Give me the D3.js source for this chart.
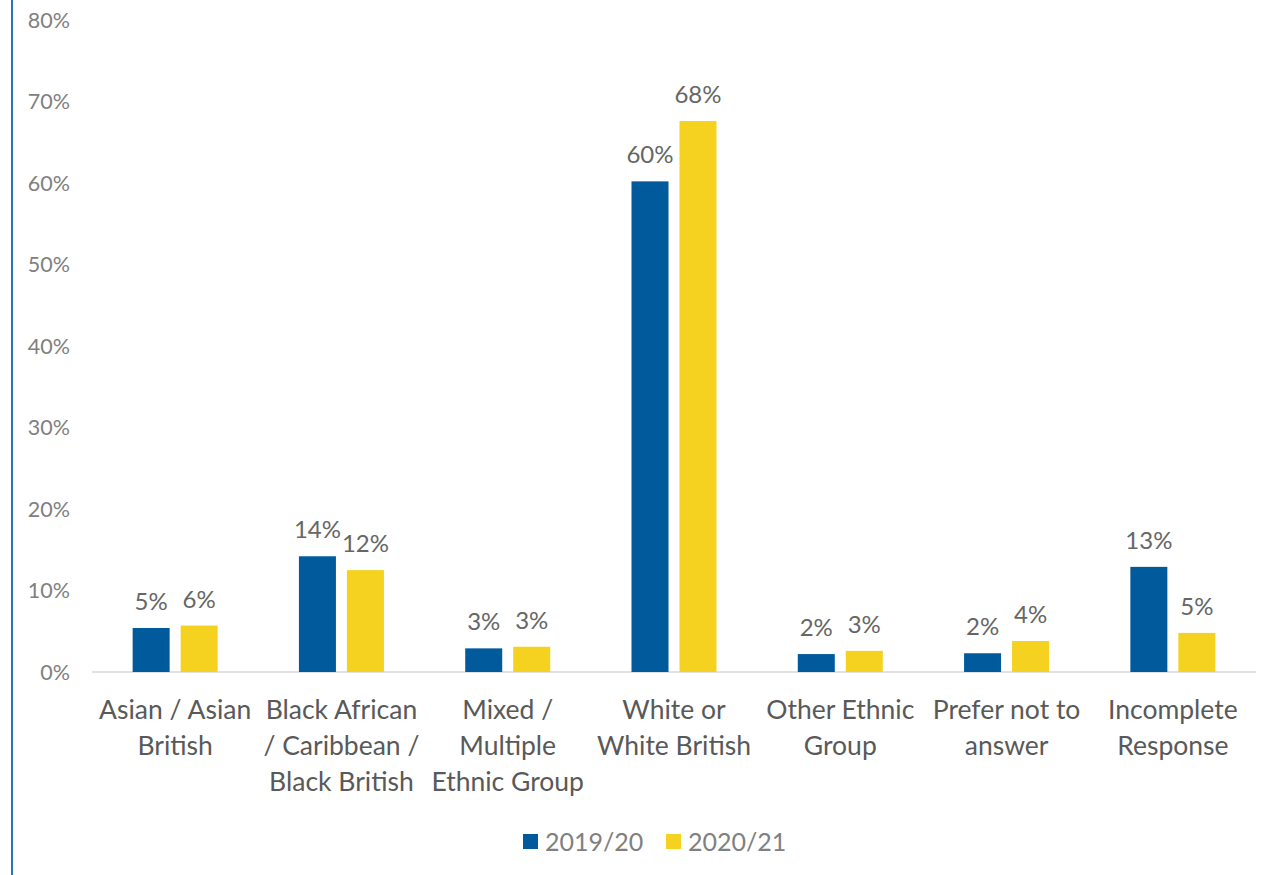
<!DOCTYPE html>
<html>
<head>
<meta charset="utf-8">
<script src="https://cdn.jsdelivr.net/npm/d3@7"></script>
<style>
  body { margin: 0; background: #fff; }
  svg { display: block; font-family: "Lato", "Open Sans", sans-serif; }
</style>
</head>
<body>
<div id="chart"></div>
<script>
const categories = [
  ['Asian / Asian', 'British'],
  ['Black African', '/ Caribbean /', 'Black British'],
  ['Mixed /', 'Multiple', 'Ethnic Group'],
  ['White or', 'White British'],
  ['Other Ethnic', 'Group'],
  ['Prefer not to', 'answer'],
  ['Incomplete', 'Response']
];
const seriesNames = ['2019/20', '2020/21'];
const values1920 = [5.4, 14.2, 2.9, 60.2, 2.2, 2.3, 12.9];
const values2021 = [5.7, 12.5, 3.1, 67.6, 2.6, 3.8, 4.8];
const labels1920 = ['5%', '14%', '3%', '60%', '2%', '2%', '13%'];
const labels2021 = ['6%', '12%', '3%', '68%', '3%', '4%', '5%'];
const yTicks = [0, 10, 20, 30, 40, 50, 60, 70, 80];
const colors = ['#005A9C', '#F5D21F'];

const width = 1265, height = 875;
const svg = d3.select('#chart').append('svg')
  .attr('width', width).attr('height', height);

// left border line
svg.append('line')
  .attr('x1', 12).attr('x2', 12).attr('y1', 0).attr('y2', height)
  .attr('stroke', '#2E75B6').attr('stroke-width', 2);

const x = d3.scaleBand().domain(d3.range(categories.length)).range([92, 1256]);
const y = d3.scaleLinear().domain([0, 80]).range([672, 20]);

// y tick labels
svg.selectAll('.ytick').data(yTicks).enter().append('text')
  .attr('x', 70).attr('y', d => y(d))
  .attr('dy', '0.35em').attr('text-anchor', 'end')
  .attr('fill', '#808080').attr('font-size', 21.5)
  .text(d => d + '%');

// baseline
svg.append('line')
  .attr('x1', 92).attr('x2', 1256).attr('y1', y(0)).attr('y2', y(0))
  .attr('stroke', '#D9D9D9').attr('stroke-width', 1.5);

const barW = 37, offset = 24;
const series = [
  { vals: values1920, labs: labels1920, dx: -offset, color: colors[0] },
  { vals: values2021, labs: labels2021, dx: offset, color: colors[1] }
];

series.forEach(s => {
  const g = svg.append('g');
  g.selectAll('rect').data(s.vals).enter().append('rect')
    .attr('x', (d, i) => x(i) + x.bandwidth() / 2 + s.dx - barW / 2)
    .attr('y', d => y(d))
    .attr('width', barW)
    .attr('height', d => y(0) - y(d))
    .attr('fill', s.color);
  g.selectAll('text').data(s.vals).enter().append('text')
    .attr('x', (d, i) => x(i) + x.bandwidth() / 2 + s.dx)
    .attr('y', d => y(d) - 18)
    .attr('text-anchor', 'middle')
    .attr('fill', '#666666').attr('font-size', 24)
    .text((d, i) => s.labs[i]);
});

// category labels
const cat = svg.selectAll('.cat').data(categories).enter().append('text')
  .attr('text-anchor', 'middle')
  .attr('fill', '#595959').attr('font-size', 26.5);
cat.selectAll('tspan').data((d, i) => d.map(t => ({ t, i }))).enter().append('tspan')
  .attr('x', d => x(d.i) + x.bandwidth() / 2)
  .attr('y', (d, j) => 719 + j * 36)
  .text(d => d.t);

// legend
const legendX = [523, 666];
seriesNames.forEach((name, i) => {
  svg.append('rect')
    .attr('x', legendX[i]).attr('y', 834).attr('width', 15).attr('height', 15)
    .attr('fill', colors[i]);
  svg.append('text')
    .attr('x', legendX[i] + 22).attr('y', 842).attr('dy', '0.35em')
    .attr('fill', '#808080').attr('font-size', 25)
    .text(name);
});
</script>
</body>
</html>
